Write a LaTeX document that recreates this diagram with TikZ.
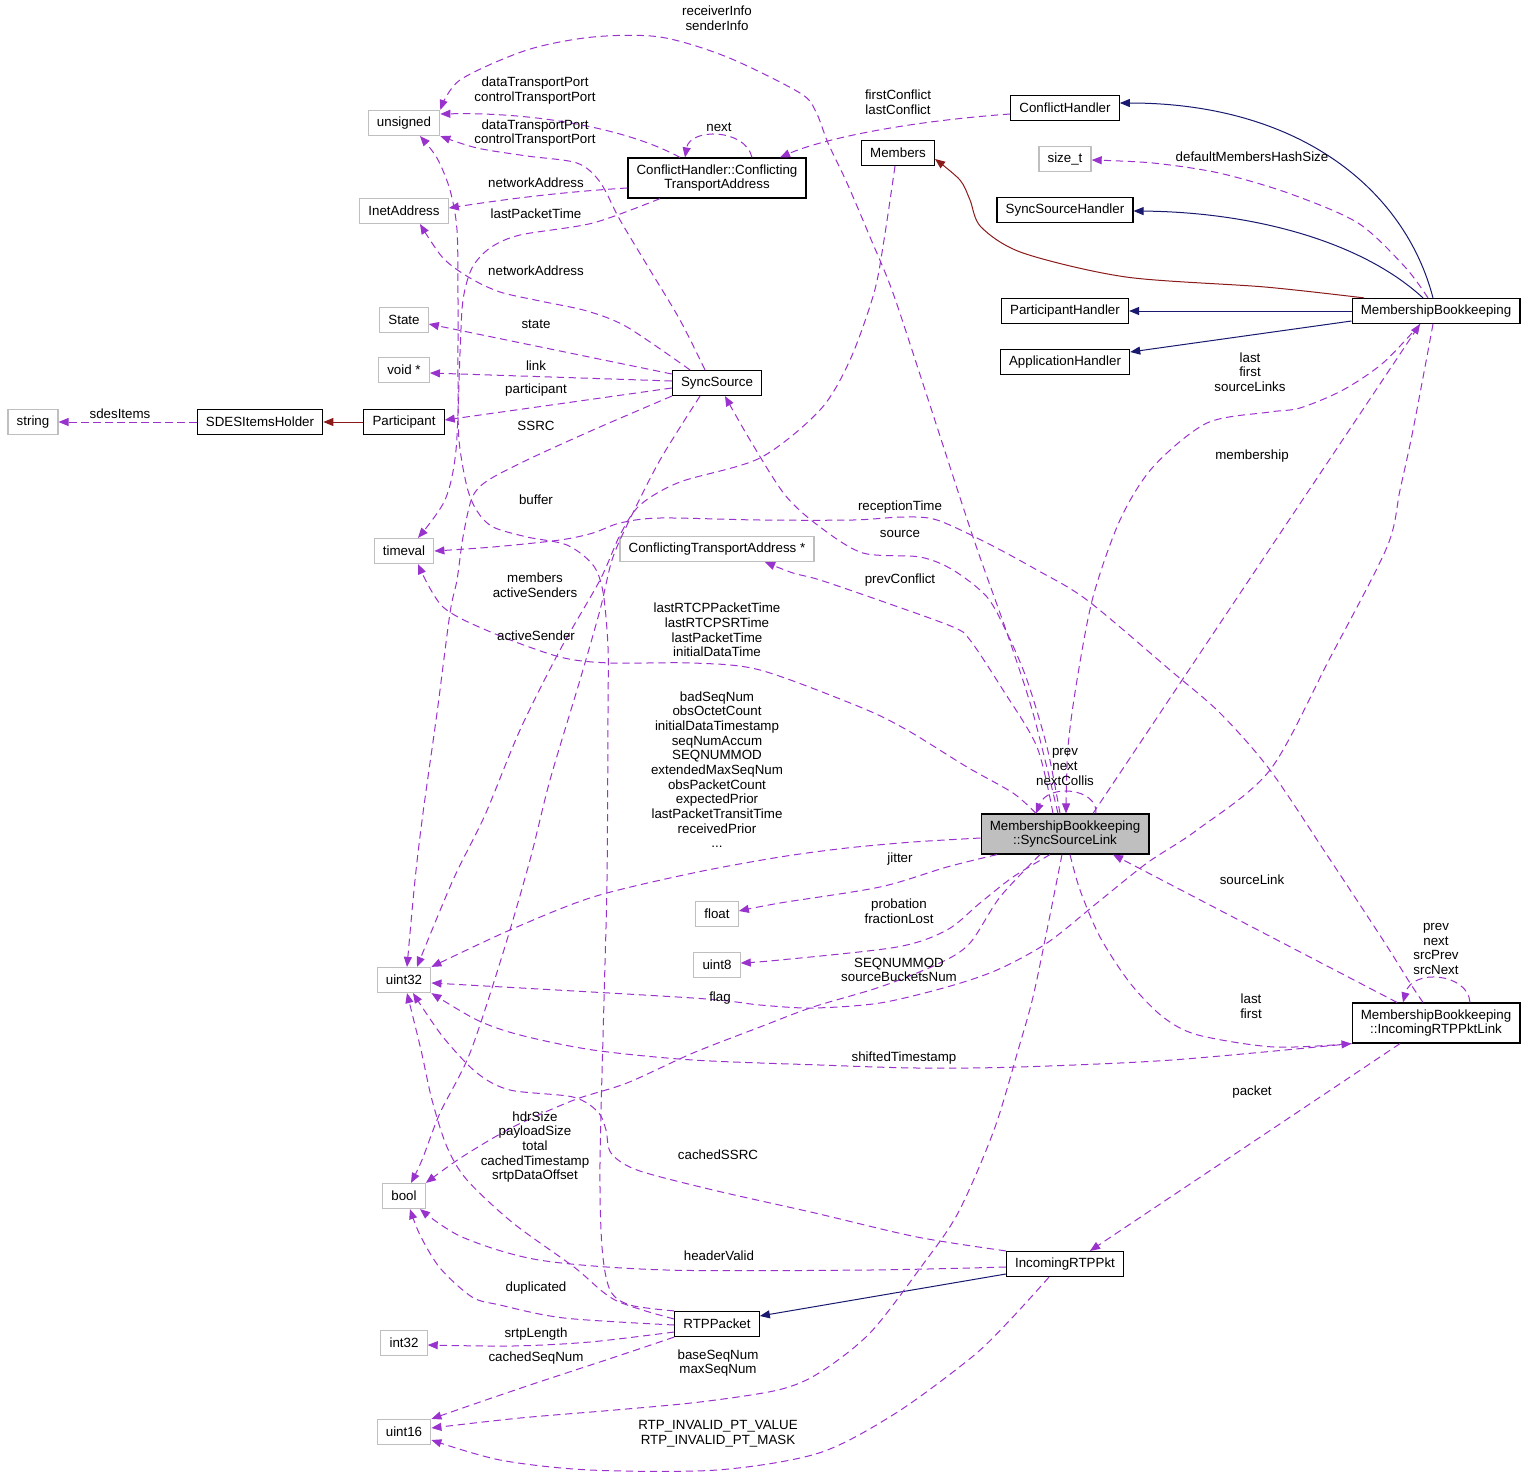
\documentclass[tikz,border=0pt]{standalone}
\usepackage{fontspec}
\setmainfont{Liberation Sans}
\usetikzlibrary{arrows.meta}

\definecolor{usepurple}{HTML}{9A32CD}
\definecolor{inhblue}{HTML}{191970}
\definecolor{inhred}{HTML}{8B1A1A}
\definecolor{extgrey}{HTML}{BFBFBF}

\tikzset{
  cls/.style={draw=black, line width=0.9pt, fill=white, inner xsep=6.5pt, minimum height=18.75pt},
  ext/.style={cls, draw=extgrey},
  focus/.style={cls, fill=extgrey},
  twoline/.style={align=center, minimum height=30pt},
  lbl/.style={align=center, inner sep=0pt},
  usage/.style={color=usepurple, dash pattern=on 5.5pt off 3.5pt, line width=0.75pt, -{Triangle[length=7.5pt,width=6pt]}},
  inherit/.style={color=inhblue, line width=0.75pt, -{Triangle[length=7.5pt,width=6pt]}},
  privinherit/.style={inherit, color=inhred},
}

\begin{document}
\begin{tikzpicture}[x=0.75pt, y=-0.75pt, font=\fontsize{10pt}{11pt}\selectfont]
  \path[use as bounding box, fill=white] (0,0) rectangle (1525,1478);

  % member types, left column
  \node[ext] (unsigned) at (404,123) {unsigned};
  \node[ext] (inetaddr) at (404,211) {InetAddress};
  \node[ext] (state) at (404,320) {State};
  \node[ext] (voidptr) at (404,370) {void *};
  \node[ext] (string) at (33,422) {string};
  \node[cls] (sdes) at (260,422) {SDESItemsHolder};
  \node[cls] (participant) at (404,422) {Participant};
  \node[ext] (timeval) at (404,551) {timeval};
  \node[ext] (uint32) at (404,980) {uint32};
  \node[ext] (bool) at (404,1196) {bool};
  \node[ext] (int32) at (404,1343) {int32};
  \node[ext] (uint16) at (404,1432) {uint16};

  % middle column
  \node[cls, twoline] (cta) at (717,178) {ConflictHandler::Conflicting\\TransportAddress};
  \node[cls] (syncsource) at (717,383) {SyncSource};
  \node[ext] (ctaptr) at (717,549) {ConflictingTransportAddress *};
  \node[ext] (float) at (717,914) {float};
  \node[ext] (uint8) at (717,965) {uint8};
  \node[cls] (rtppacket) at (717,1324) {RTPPacket};
  \node[cls] (members) at (898,153) {Members};

  % handlers and the bookkeeping classes
  \node[cls] (conflicthandler) at (1065,108) {ConflictHandler};
  \node[ext] (sizet) at (1065,159) {size\_t};
  \node[cls] (sshandler) at (1065,210) {SyncSourceHandler};
  \node[cls] (phandler) at (1065,311) {ParticipantHandler};
  \node[cls] (ahandler) at (1065,362) {ApplicationHandler};
  \node[focus, twoline] (sslink) at (1065,834) {MembershipBookkeeping\\::SyncSourceLink};
  \node[cls] (irtppkt) at (1065,1264) {IncomingRTPPkt};
  \node[cls] (mb) at (1436,311) {MembershipBookkeeping};
  \node[cls, twoline] (rtplink) at (1436,1023) {MembershipBookkeeping\\::IncomingRTPPktLink};

  % inheritance
  \draw[inherit] (mb.north -| 1433,0) .. controls (1405,190) and (1300,103) .. (conflicthandler.east |- 0,103);
  \draw[inherit] (mb.north -| 1423,0) .. controls (1360,240) and (1250,212) .. (sshandler.east |- 0,211);
  \draw[inherit] (mb.west) -- (phandler.east);
  \draw[inherit] (mb.west |- 0,321) -- (ahandler.east |- 0,352);
  \draw[inherit] (irtppkt.west |- 0,1274) -- (rtppacket.east |- 0,1316);
  \draw[privinherit] (participant) -- (sdes);
  \draw[privinherit] plot[smooth] coordinates {(mb.north -| 1364,0) (1265,287) (1126,277) (1023,253) (981,227) (970,200) (960,180) (members.east |- 0,159)};

  % members of MembershipBookkeeping
  \draw[usage] plot[smooth] coordinates {(mb.north -| 1428,0) (1405,267) (1358,223) (1288,193) (1219,173) (1153,163) (sizet.east |- 0,160)};
  \draw[usage] plot[smooth] coordinates {(mb.south -| 1420,0) (1383,363) (1343,390) (1300,408) (1270,412) (1207,423) (1153,467) (1120,520) (1093,597) (1077,680) (1068,747) (sslink.north -| 1066,0)};
  \draw[usage] plot[smooth] coordinates {(mb.south -| 1433,0) (1413,430) (1400,490) (1387,547) (1330,658) (1270,770) (1197,830) (1147,863) (1097,903) (1047,943) (997,970) (947,987) (880,1003) (813,1008) (760,1005) (693,998) (uint32.east |- 0,983)};
  \draw[usage] plot[smooth] coordinates {(members.south -| 895,0) (884,240) (874,293) (850,360) (820,410) (760,458) (680,482) (640,505) (620,535) (600,580) (560,650) (520,730) (485,815) (453,880) (uint32.north -| 417,0)};

  % members of SyncSourceLink
  \draw[usage] (sslink.north -| 1093,0) -- (mb.south -| 1420,0);
  \draw[usage] (sslink.north -| 1096,0) .. controls (1098,788) and (1048,783) .. (sslink.north -| 1036,0);
  \draw[usage] plot[smooth] coordinates {(sslink.north -| 1036,0) (1013,793) (967,767) (907,730) (860,707) (760,670) (693,663) (610,663) (560,657) (493,633) (443,607) (timeval.south -| 418,0)};
  \draw[usage] plot[smooth] coordinates {(sslink.north -| 1058,0) (1033,713) (1007,633) (973,537) (926,393) (893,293) (870,237) (847,183) (828,143) (816,112) (800,93) (727,57) (660,37) (593,37) (527,50) (460,80) (unsigned.north east)};
  \draw[usage] plot[smooth] coordinates {(sslink.north -| 1053,0) (1037,747) (1003,690) (970,640) (953,627) (887,603) (820,580) (793,573) (ctaptr.south -| 765,0)};
  \draw[usage] plot[smooth] coordinates {(sslink.north -| 1060,0) (1047,747) (1027,680) (1007,633) (987,597) (953,570) (920,557) (863,553) (820,527) (785,495) (750,440) (syncsource.south -| 725,0)};
  \draw[usage] plot[smooth] coordinates {(sslink.west |- 0,838) (913,842) (847,848) (780,857) (693,873) (593,897) (510,930) (uint32.north east)};
  \draw[usage] plot[smooth] coordinates {(sslink.south -| 997,0) (947,867) (880,887) (780,903) (float.east |- 0,911)};
  \draw[usage] plot[smooth] coordinates {(sslink.south -| 1050,0) (1013,877) (980,903) (947,930) (897,947) (780,960) (uint8.east |- 0,963)};
  \draw[usage] plot[smooth] coordinates {(sslink.south -| 1040,0) (1000,897) (970,943) (940,963) (880,987) (813,1007) (760,1027) (693,1053) (627,1083) (574,1100) (513,1127) (462,1157) (bool.north east)};
  \draw[usage] plot[smooth] coordinates {(sslink.south -| 1062,0) (1047,930) (1033,997) (1019,1047) (994,1130) (958,1213) (921,1267) (870,1333) (819,1373) (778,1390) (700,1402) (615,1410) (520,1418) (uint16.east |- 0,1428)};
  \draw[usage] plot[smooth] coordinates {(sslink.south -| 1070,0) (1080,890) (1100,937) (1130,983) (1163,1017) (1198,1035) (1274,1047) (rtplink.south west)};

  % members of IncomingRTPPktLink
  \draw[usage] (rtplink.north -| 1470,0) .. controls (1468,973) and (1412,968) .. (rtplink.north -| 1403,0);
  \draw[usage] (rtplink.north -| 1397,0) -- (sslink.south -| 1113,0);
  \draw[usage] plot[smooth] coordinates {(rtplink.north -| 1423,0) (1410,983) (1383,940) (1327,855) (1270,770) (1220,713) (1170,670) (1087,600) (1037,570) (987,543) (937,520) (903,517) (853,520) (760,520) (660,518) (620,523) (593,533) (560,540) (493,547) (timeval.east |- 0,551)};
  \draw[usage] plot[smooth] coordinates {(rtplink.south west) (1172,1060) (1019,1067) (917,1068) (820,1065) (693,1060) (593,1050) (520,1035) (477,1020) (uint32.south east)};
  \draw[usage] (rtplink.south -| 1400,0) -- (irtppkt.north -| 1090,0);

  % members of IncomingRTPPkt and RTPPacket
  \draw[usage] plot[smooth] coordinates {(irtppkt.north west) (917,1237) (815,1213) (713,1190) (637,1170) (611,1153) (606,1130) (598,1112) (573,1097) (510,1090) (477,1073) (443,1037) (uint32.south -| 413,0)};
  \draw[usage] plot[smooth] coordinates {(irtppkt.west |- 0,1267) (870,1270) (666,1270) (539,1260) (462,1237) (bool.south -| 420,0)};
  \draw[usage] plot[smooth] coordinates {(irtppkt.south -| 1049,0) (1010,1320) (972,1357) (896,1413) (819,1453) (717,1470) (590,1470) (500,1460) (uint16.east |- 0,1440)};
  \draw[usage] plot[smooth] coordinates {(rtppacket.north west) (630,1305) (610,1290) (602,1247) (600,1163) (604,1000) (607,880) (608,713) (608,647) (603,592) (593,565) (567,545) (527,537) (493,527) (477,511) (467,487) (459,440) (458,380) (458,300) (457,230) (450,190) (437,158) (unsigned.south -| 420,0)};
  \draw[usage] plot[smooth] coordinates {(rtppacket.west |- 0,1319) (615,1300) (574,1267) (513,1223) (467,1180) (447,1147) (432,1100) (421,1050) (uint32.south -| 407,0)};
  \draw[usage] plot[smooth] coordinates {(rtppacket.west |- 0,1325) (564,1318) (500,1305) (472,1297) (440,1268) (420,1235) (bool.south -| 410,0)};
  \draw[usage] plot[smooth] coordinates {(rtppacket.west |- 0,1332) (590,1342) (513,1346) (int32.east |- 0,1345)};
  \draw[usage] plot[smooth] coordinates {(rtppacket.south west) (615,1357) (539,1382) (480,1402) (uint16.north east)};

  % members of SyncSource
  \draw[usage] plot[smooth] coordinates {(syncsource.north -| 705,0) (680,320) (650,270) (620,220) (600,182) (577,163) (527,156) (477,148) (unsigned.south east)};
  \draw[usage] plot[smooth] coordinates {(syncsource.north -| 690,0) (627,327) (587,311) (540,301) (500,292) (470,278) (443,258) (inetaddr.south -| 420,0)};
  \draw[usage] (syncsource.west |- 0,374) -- (state.east |- 0,324);
  \draw[usage] (syncsource.west |- 0,381) -- (voidptr.east |- 0,373);
  \draw[usage] (syncsource.west |- 0,388) -- (participant.east |- 0,420);
  \draw[usage] plot[smooth] coordinates {(syncsource.south west) (593,430) (527,460) (487,481) (472,498) (463,537) (457,580) (450,613) (437,713) (423,813) (415,880) (uint32.north -| 407,0)};
  \draw[usage] plot[smooth] coordinates {(syncsource.south -| 700,0) (660,460) (628,523) (612,560) (600,610) (580,680) (550,780) (530,860) (503,953) (470,1053) (440,1113) (422,1160) (bool.north -| 411,0)};

  % members of the other classes
  \draw[usage] (sdes) -- (string);
  \draw[usage] (conflicthandler.west |- 0,114) .. controls (900,122) and (820,140) .. (cta.north -| 780,0);
  \draw[usage] (cta.north -| 752,0) .. controls (745,128) and (690,128) .. (cta.north -| 685,0);
  \draw[usage] (cta.north -| 680,0) .. controls (630,130) and (540,112) .. (unsigned.east |- 0,114);
  \draw[usage] (cta.west |- 0,188) .. controls (560,192) and (500,200) .. (inetaddr.east |- 0,208);
  \draw[usage] plot[smooth] coordinates {(cta.south -| 660,0) (593,223) (520,235) (490,248) (472,268) (463,300) (460,353) (456,450) (445,500) (timeval.north -| 418,0)};

  % edge labels
  \node[lbl] (l-recv) at (717,18.5) {receiverInfo\\senderInfo};
  \node[lbl] (l-port1) at (535,90.5) {dataTransportPort\\controlTransportPort};
  \node[lbl] (l-next) at (719,127) {next};
  \node[lbl] (l-port2) at (535,133) {dataTransportPort\\controlTransportPort};
  \node[lbl] (l-conflict) at (898,102) {firstConflict\\lastConflict};
  \node[lbl] (l-netaddr1) at (536,183) {networkAddress};
  \node[lbl] (l-lastpkt) at (536,214) {lastPacketTime};
  \node[lbl] (l-hashsize) at (1252,157) {defaultMembersHashSize};
  \node[lbl] (l-netaddr2) at (536,271) {networkAddress};
  \node[lbl] (l-state) at (536,324) {state};
  \node[lbl] (l-link) at (536,366) {link};
  \node[lbl] (l-participant) at (536,390) {participant};
  \node[lbl] (l-sdes) at (120,414) {sdesItems};
  \node[lbl] (l-ssrc) at (536,426) {SSRC};
  \node[lbl] (l-srclinks) at (1250,372) {last\\first\\sourceLinks};
  \node[lbl] (l-membership) at (1252,456) {membership};
  \node[lbl] (l-buffer) at (536,500) {buffer};
  \node[lbl] (l-reception) at (900,507) {receptionTime};
  \node[lbl] (l-source) at (900,534) {source};
  \node[lbl] (l-prevconf) at (900,580) {prevConflict};
  \node[lbl] (l-members) at (535,585) {members\\activeSenders};
  \node[lbl] (l-times) at (717,630) {lastRTCPPacketTime\\lastRTCPSRTime\\lastPacketTime\\initialDataTime};
  \node[lbl] (l-activesender) at (536,636) {activeSender};
  \node[lbl] (l-counters) at (717,769.5) {badSeqNum\\obsOctetCount\\initialDataTimestamp\\seqNumAccum\\SEQNUMMOD\\extendedMaxSeqNum\\obsPacketCount\\expectedPrior\\lastPacketTransitTime\\receivedPrior\\...};
  \node[lbl] (l-selflink) at (1065,767) {prev\\next\\nextCollis};
  \node[lbl] (l-jitter) at (900,859) {jitter};
  \node[lbl] (l-probation) at (899,911) {probation\\fractionLost};
  \node[lbl] (l-sourcelink) at (1252,880) {sourceLink};
  \node[lbl] (l-pktlinks) at (1436,949) {prev\\next\\srcPrev\\srcNext};
  \node[lbl] (l-seqnummod) at (899,970) {SEQNUMMOD\\sourceBucketsNum};
  \node[lbl] (l-flag) at (720,998) {flag};
  \node[lbl] (l-lastfirst) at (1251,1006) {last\\first};
  \node[lbl] (l-shifted) at (904,1058) {shiftedTimestamp};
  \node[lbl] (l-packet) at (1252,1092) {packet};
  \node[lbl] (l-sizes) at (535,1147) {hdrSize\\payloadSize\\total\\cachedTimestamp\\srtpDataOffset};
  \node[lbl] (l-cachedssrc) at (718,1155) {cachedSSRC};
  \node[lbl] (l-headervalid) at (719,1256) {headerValid};
  \node[lbl] (l-duplicated) at (536,1288) {duplicated};
  \node[lbl] (l-srtplength) at (536,1334) {srtpLength};
  \node[lbl] (l-cachedseq) at (536,1358) {cachedSeqNum};
  \node[lbl] (l-seqnums) at (718,1363) {baseSeqNum\\maxSeqNum};
  \node[lbl] (l-invalid) at (718,1434) {RTP\_INVALID\_PT\_VALUE\\RTP\_INVALID\_PT\_MASK};
\end{tikzpicture}
\end{document}
